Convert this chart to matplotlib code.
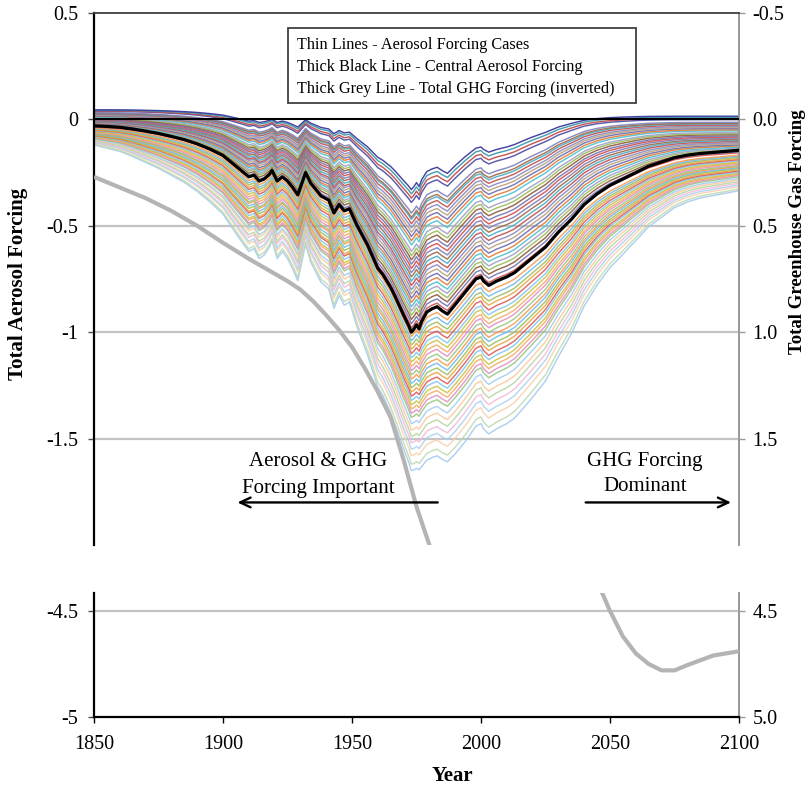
import numpy as np
import matplotlib
matplotlib.use("Agg")
import matplotlib.pyplot as plt
from matplotlib.patches import Rectangle

plt.rcParams['font.family'] = ['Liberation Serif', 'DejaVu Serif']

# ---------------- data ----------------
central_years = [1850, 1855, 1860, 1865, 1870, 1875, 1880, 1885, 1890, 1895, 1900,
                 1903, 1906, 1908, 1910, 1912, 1914, 1916, 1918, 1919, 1921, 1923, 1925, 1927, 1929,
                 1932, 1934, 1936, 1938, 1941, 1943, 1945, 1947, 1949,
                 1952, 1956, 1960, 1962, 1965, 1967, 1970, 1972, 1973, 1974, 1975, 1976, 1977, 1979,
                 1981, 1983, 1985, 1987, 1990, 1994, 1998, 2000, 2001, 2003, 2006, 2010, 2013, 2017, 2020,
                 2025, 2030, 2035, 2040, 2045, 2050, 2055, 2060, 2065, 2070, 2075, 2080, 2085, 2090, 2095, 2100]
central_values = [-0.030, -0.033, -0.037, -0.045, -0.055, -0.066, -0.080, -0.095, -0.115, -0.140, -0.170,
                  -0.200, -0.230, -0.250, -0.270, -0.262, -0.290, -0.280, -0.258, -0.240, -0.290, -0.270, -0.290, -0.320, -0.355,
                  -0.250, -0.300, -0.330, -0.360, -0.380, -0.440, -0.400, -0.430, -0.420,
                  -0.500, -0.590, -0.700, -0.730, -0.790, -0.840, -0.920, -0.970, -1.000, -0.985, -0.965, -0.985, -0.950, -0.905,
                  -0.890, -0.880, -0.900, -0.915, -0.870, -0.810, -0.750, -0.740, -0.760, -0.780, -0.760, -0.740, -0.720, -0.680, -0.650,
                  -0.600, -0.530, -0.470, -0.400, -0.350, -0.310, -0.280, -0.250, -0.220, -0.200, -0.180, -0.168, -0.160, -0.155, -0.150, -0.145]

# total GHG forcing (plotted inverted)
ghg_years = [1850, 1860, 1870, 1880, 1890, 1900, 1910, 1920, 1925, 1930, 1935, 1940, 1945, 1950, 1955, 1960,
             1965, 1970, 1975, 1980, 1990, 2000, 2010, 2020, 2030, 2040, 2047, 2050, 2055, 2060,
             2065, 2070, 2075, 2080, 2090, 2100]
ghg_values = [0.27, 0.32, 0.37, 0.43, 0.50, 0.58, 0.655, 0.725, 0.76, 0.80, 0.855, 0.92, 0.99, 1.07, 1.17, 1.28,
              1.40, 1.60, 1.82, 2.00, 2.40, 2.77, 3.15, 3.52, 3.87, 4.18, 4.415, 4.50, 4.62, 4.70,
              4.75, 4.78, 4.78, 4.755, 4.71, 4.69]

# thin aerosol cases: value in 1850, value at the 1973 trough, value in 2100,
# plus how early each case builds up and how fast / late it recovers
case_start = [0.045, 0.043, 0.040, 0.038,
              0.031, 0.029, 0.027, 0.025, 0.022, 0.020, 0.017, 0.015, 0.012, 0.009, 0.006, 0.004, 0.001, -0.001,
              -0.004, -0.006, -0.009, -0.011, -0.014, -0.016, -0.019, -0.021, -0.024, -0.026, -0.029, -0.031, -0.034, -0.036,
              -0.041, -0.044, -0.046, -0.049, -0.051, -0.054, -0.056, -0.059, -0.061, -0.064, -0.066, -0.069, -0.071, -0.074,
              -0.076, -0.079, -0.081, -0.084, -0.086, -0.089,
              -0.093, -0.096, -0.100, -0.104, -0.108, -0.111, -0.116, -0.120]
case_trough = [-0.33, -0.35, -0.37, -0.39,
               -0.44, -0.46, -0.47, -0.49, -0.51, -0.53, -0.55, -0.57, -0.59, -0.62, -0.64, -0.66, -0.68, -0.70,
               -0.72, -0.74, -0.76, -0.78, -0.80, -0.82, -0.84, -0.86, -0.88, -0.90, -0.92, -0.94, -0.96, -0.98,
               -1.02, -1.04, -1.06, -1.08, -1.10, -1.12, -1.14, -1.16, -1.18, -1.20, -1.22, -1.24, -1.26, -1.28,
               -1.30, -1.32, -1.34, -1.36, -1.38, -1.40,
               -1.43, -1.46, -1.49, -1.52, -1.55, -1.58, -1.62, -1.65]
case_end = [0.015, 0.010, 0.004, -0.001,
            -0.014, -0.019, -0.022, -0.027, -0.033, -0.038, -0.043, -0.049, -0.054, -0.062, -0.067, -0.072, -0.078, -0.083,
            -0.088, -0.094, -0.099, -0.104, -0.110, -0.115, -0.120, -0.125, -0.131, -0.136, -0.141, -0.147, -0.152, -0.157,
            -0.168, -0.173, -0.178, -0.184, -0.189, -0.194, -0.200, -0.205, -0.210, -0.216, -0.221, -0.226, -0.231, -0.237,
            -0.242, -0.247, -0.253, -0.258, -0.263, -0.269,
            -0.277, -0.284, -0.292, -0.300, -0.308, -0.316, -0.327, -0.335]
case_early = [1.4, 1.37, 1.33, 1.3,
              1.25, 1.24, 1.23, 1.22, 1.2, 1.19, 1.18, 1.17, 1.16, 1.14, 1.13, 1.12, 1.11, 1.1,
              1.09, 1.08, 1.07, 1.06, 1.06, 1.05, 1.04, 1.03, 1.03, 1.02, 1.02, 1.01, 1.0, 1.0,
              0.99, 0.98, 0.97, 0.96, 0.95, 0.94, 0.93, 0.92, 0.91, 0.9, 0.9, 0.89, 0.88, 0.87,
              0.87, 0.86, 0.85, 0.85, 0.84, 0.84,
              0.83, 0.83, 0.82, 0.82, 0.81, 0.81, 0.8, 0.8]
case_fast = [2.4, 2.3, 2.2, 2.1,
             1.9, 1.85, 1.8, 1.77, 1.73, 1.7, 1.66, 1.62, 1.58, 1.53, 1.5, 1.46, 1.42, 1.39,
             1.35, 1.32, 1.29, 1.26, 1.23, 1.2, 1.17, 1.14, 1.12, 1.09, 1.07, 1.05, 1.03, 1.01,
             1.0, 1.0, 1.0, 1.0, 1.0, 1.0, 1.0, 1.0, 1.0, 1.0, 1.0, 1.0, 1.0, 1.0,
             1.0, 1.0, 1.0, 1.0, 1.0, 1.0,
             1.0, 1.0, 1.0, 1.0, 1.0, 1.0, 1.0, 1.0]
case_slow = [1.0, 1.0, 1.0, 1.0,
             1.0, 1.0, 1.0, 1.0, 1.0, 1.0, 1.0, 1.0, 1.0, 1.0, 1.0, 1.0, 1.0, 1.0,
             1.0, 1.0, 1.0, 1.0, 1.0, 1.0, 1.0, 1.0, 1.0, 1.0, 1.0, 1.0, 1.0, 1.0,
             1.03, 1.05, 1.07, 1.08, 1.1, 1.12, 1.13, 1.15, 1.16, 1.18, 1.2, 1.21, 1.23, 1.24,
             1.26, 1.27, 1.29, 1.3, 1.32, 1.33,
             1.35, 1.37, 1.39, 1.41, 1.43, 1.45, 1.48, 1.5]

left_ticks_top = [0.5, 0, -0.5, -1, -1.5]
left_labels_top = ['0.5', '0', '-0.5', '-1', '-1.5']
right_labels_top = ['-0.5', '0.0', '0.5', '1.0', '1.5']
left_ticks_bot = [-4.5, -5]
left_labels_bot = ['-4.5', '-5']
right_labels_bot = ['4.5', '5.0']
year_ticks = [1850, 1900, 1950, 2000, 2050, 2100]

legend_lines = ['Thin Lines - Aerosol Forcing Cases',
                'Thick Black Line - Central Aerosol Forcing',
                'Thick Grey Line - Total GHG Forcing (inverted)']

# ---------------- build the cases from the central shape ----------------
cy = np.array(central_years, dtype=float)
cv = np.array(central_values, dtype=float)
it = int(np.argmin(cv))
cS, cT, cE = cv[0], cv[it], cv[-1]
q_central = (cv - cS) / (cT - cS)            # build-up fraction before the trough
r_central = np.clip((cv - cT) / (cE - cT), 0, 1)   # recovery fraction after it

cases = []
for S, T, E, h, k, g in zip(case_start, case_trough, case_end, case_early, case_fast, case_slow):
    q = np.sign(q_central) * np.abs(q_central) ** h
    vals = S + (T - S) * q
    f = 1 - (1 - r_central ** g) ** k
    vals[it:] = T + (E - T) * f[it:]
    cases.append(vals)

# colours (Excel-like palette, lighter for the weaker cases)
top_cols = ['#3B3B9C', '#3F9AAE', '#C0504D', '#5252A8']
mid_cols = ['#7F7FB8', '#9B6B4A', '#4BACC6', '#C0504D', '#8A8AC0', '#B8A27E', '#6C6CAE',
            '#E07B39', '#4BC0CF', '#A0A0C8', '#9BBB59', '#8C5A3A', '#7474B0', '#D05050']
low_cols = ['#F79646', '#6CB7E8', '#9BBB59', '#E8A23C', '#D9534F', '#7FC3EE', '#C8C040',
            '#F5A860', '#E08CC0', '#93C47D']
pale_cols = ['#9FCBF0', '#FAC79A', '#B5D49E', '#F2B8D8', '#A8D0F0', '#F8D0A8', '#BCD8B0', '#A0C8EE']

def case_style(i):
    if i < 4:
        return top_cols[i], 0.95
    if i < 32:
        return mid_cols[(i - 4) % len(mid_cols)], 0.9
    if i < 52:
        return low_cols[(i - 32) % len(low_cols)], 0.85
    return pale_cols[(i - 52) % len(pale_cols)], 0.85

# ---------------- figure ----------------
W, H = 809, 789
fig = plt.figure(figsize=(W / 100, H / 100), dpi=100)
ax1 = fig.add_axes([94 / W, 1 - 545 / H, 645 / W, 532 / H])
ax2 = fig.add_axes([94 / W, 1 - 717 / H, 645 / W, 124 / H])

grid_c = '#C4C4C4'
for ax, lo, hi in ((ax1, -2.0, 0.5), (ax2, -5.0, -4.415)):
    ax.set_xlim(1850, 2100)
    ax.set_ylim(lo, hi)
    for i in range(len(cases) - 1, -1, -1):
        c, al = case_style(i)
        ax.plot(cy, cases[i], color=c, lw=1.05, alpha=al, zorder=2)
    ax.plot(cy, cv, color='black', lw=2.3, zorder=4)
    ax.plot(ghg_years, -np.array(ghg_values), color='#B4B4B4', lw=3.0, zorder=5,
            solid_capstyle='butt')

# gridlines
for y in (-0.5, -1.0, -1.5):
    ax1.axhline(y, color=grid_c, lw=1.6, zorder=1)
ax1.axhline(0, color='black', lw=1.5, zorder=6)
ax2.axhline(-4.5, color=grid_c, lw=1.6, zorder=1)

# spines
ax1.spines['bottom'].set_visible(False)
ax1.spines['top'].set_color('#404040')
ax1.spines['top'].set_linewidth(1.3)
ax1.spines['left'].set_color('black')
ax1.spines['left'].set_linewidth(1.6)
ax1.spines['right'].set_color('#9A9A9A')
ax1.spines['right'].set_linewidth(1.3)
ax2.spines['top'].set_visible(False)
ax2.spines['left'].set_linewidth(1.6)
ax2.spines['bottom'].set_linewidth(1.6)
ax2.spines['right'].set_color('#9A9A9A')
ax2.spines['right'].set_linewidth(1.3)

tick_fs = 14.5
ax1.set_yticks(left_ticks_top)
ax1.set_yticklabels(left_labels_top)
ax1.set_xticks([])
ax2.set_yticks(left_ticks_bot)
ax2.set_yticklabels(left_labels_bot)
ax2.set_xticks(year_ticks)
ax2.set_xticklabels([str(y) for y in year_ticks])
for ax in (ax1, ax2):
    ax.tick_params(axis='y', direction='out', length=4.3, width=1.0, labelsize=tick_fs, pad=7, color='#505050')
    ax.tick_params(axis='x', direction='out', length=4, width=1.0, labelsize=tick_fs, pad=9)

for ax, ticks, labels in ((ax1, left_ticks_top, right_labels_top), (ax2, left_ticks_bot, right_labels_bot)):
    sec = ax.secondary_yaxis('right', functions=(lambda y: -y, lambda y: -y))
    sec.set_yticks([-t for t in ticks])
    sec.set_yticklabels(labels)
    sec.spines['right'].set_color('#9A9A9A')
    sec.spines['right'].set_linewidth(1.3)
    sec.tick_params(axis='y', direction='out', length=4.3, width=1.0, colors='#9A9A9A',
                    labelcolor='black', labelsize=tick_fs, pad=5.5)

# legend box
fig.add_artist(Rectangle((288 / W, 1 - 103 / H), 348 / W, 75 / H, transform=fig.transFigure,
                         facecolor='white', edgecolor='#404040', lw=1.3, zorder=10))
for j, txt in enumerate(legend_lines):
    fig.text(297 / W, 1 - (45 + 22 * j) / H, txt, fontsize=11.7, ha='left', va='center', zorder=11)

# annotations with arrows
ax1.text(1936.8, -1.607, 'Aerosol & GHG', ha='center', va='center', fontsize=15, zorder=8)
ax1.text(1936.8, -1.734, 'Forcing Important', ha='center', va='center', fontsize=15, zorder=8)
ax1.text(2063.6, -1.607, 'GHG Forcing', ha='center', va='center', fontsize=15, zorder=8)
ax1.text(2063.6, -1.724, 'Dominant', ha='center', va='center', fontsize=15, zorder=8)
arrow_kw = dict(arrowstyle='->,head_length=0.75,head_width=0.35', lw=1.7, color='black')
ax1.annotate('', xy=(1904.5, -1.80), xytext=(1984.3, -1.80), arrowprops=arrow_kw, zorder=8)
ax1.annotate('', xy=(2098.0, -1.80), xytext=(2039.5, -1.80), arrowprops=arrow_kw, zorder=8)

# axis titles
fig.text(18 / W, 1 - 284 / H, 'Total Aerosol Forcing', rotation=90, ha='center', va='center',
         fontsize=15, fontweight='bold')
fig.text(797 / W, 1 - 232 / H, 'Total Greenhouse Gas Forcing', rotation=90, ha='center', va='center',
         fontsize=13.5, fontweight='bold')
fig.text(452 / W, 1 - 776 / H, 'Year', ha='center', va='center', fontsize=15, fontweight='bold')

fig.savefig('out.png', dpi=100, facecolor='white')
